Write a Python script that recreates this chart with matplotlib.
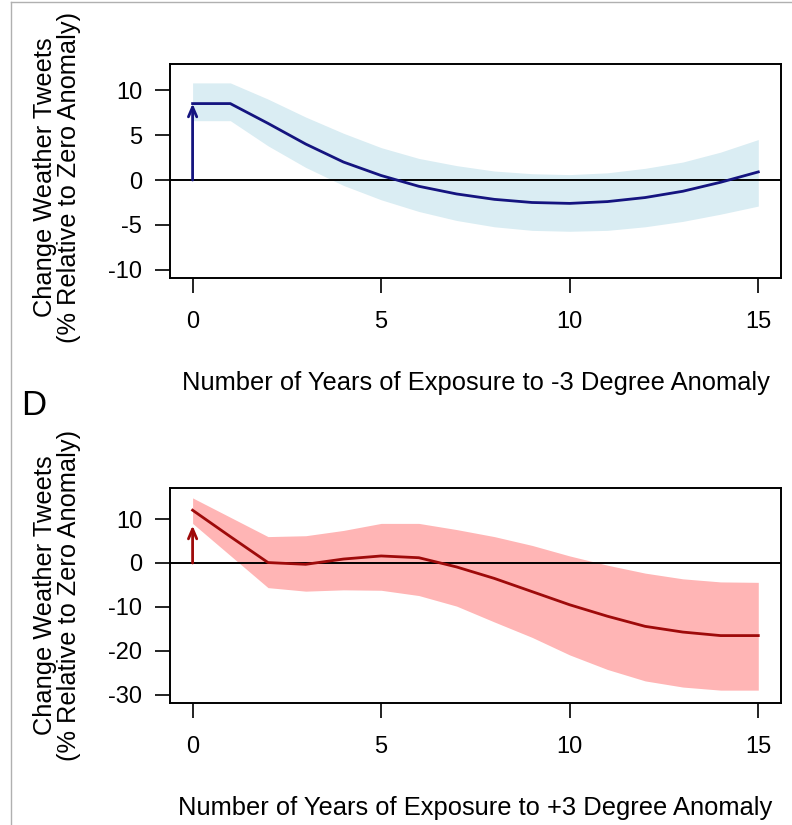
import numpy as np
import matplotlib
matplotlib.use("Agg")
import matplotlib.pyplot as plt
from matplotlib.lines import Line2D

plt.rcParams['font.family'] = ['Liberation Sans', 'DejaVu Sans']
plt.rcParams['axes.unicode_minus'] = False

# data
years = np.arange(16)

cold_est = [8.5, 8.5, 6.3, 4.0, 2.0, 0.5, -0.7, -1.55, -2.15, -2.5, -2.6, -2.4, -1.95, -1.25, -0.25, 0.9]
cold_hi = [10.8, 10.8, 9.0, 7.0, 5.2, 3.6, 2.4, 1.6, 1.0, 0.7, 0.6, 0.8, 1.3, 2.0, 3.1, 4.5]
cold_lo = [6.6, 6.6, 3.8, 1.4, -0.6, -2.2, -3.5, -4.5, -5.2, -5.6, -5.7, -5.6, -5.2, -4.6, -3.8, -2.9]
cold_arrow = 8.5

hot_est = [12.0, 6.0, 0.1, -0.3, 0.9, 1.6, 1.2, -0.9, -3.5, -6.5, -9.5, -12.1, -14.4, -15.7, -16.5, -16.5]
hot_hi = [14.8, 10.4, 6.0, 6.2, 7.4, 9.0, 9.0, 7.6, 6.0, 4.0, 1.6, -0.5, -2.3, -3.6, -4.3, -4.4]
hot_lo = [9.0, 1.7, -5.6, -6.4, -6.1, -6.2, -7.4, -9.8, -13.4, -16.9, -20.9, -24.2, -26.8, -28.2, -28.9, -28.9]
hot_arrow = 8.5

xticks = [0, 5, 10, 15]
cold_yticks = [-10, -5, 0, 5, 10]
hot_yticks = [-30, -20, -10, 0, 10]

ylabel = "Change Weather Tweets\n(% Relative to Zero Anomaly)"

fig = plt.figure(figsize=(7.92, 8.25), dpi=100)
ax1 = fig.add_axes([0.2146, 0.663, 0.7714, 0.2594])
ax2 = fig.add_axes([0.2146, 0.148, 0.7714, 0.2605])


def panel(ax, est, lo, hi, arrow_top, line_col, band_col, yticks, ylim, xlab, label_y):
    ax.fill_between(years, lo, hi, color=band_col, lw=0)
    ax.axhline(0, color='black', lw=1.4)
    ax.plot(years, est, color=line_col, lw=2.0)
    ax.annotate('', xy=(0, arrow_top), xytext=(0, 0),
                arrowprops=dict(arrowstyle='->,head_length=0.7,head_width=0.3',
                                color=line_col, lw=2.0, shrinkA=0, shrinkB=0))
    ax.set_xlim(-0.6, 15.6)
    ax.set_ylim(*ylim)
    ax.set_xticks(xticks)
    ax.set_yticks(yticks)
    ax.tick_params(direction='out', length=11, width=1.4, labelsize=17, color='#222222')
    ax.tick_params(axis='x', pad=13)
    ax.tick_params(axis='y', pad=9)
    for s in ax.spines.values():
        s.set_linewidth(1.4)
    ax.set_xlabel(xlab, fontsize=18.4, labelpad=27)
    ax.set_ylabel(ylabel, fontsize=18.3, linespacing=1.0)
    ax.yaxis.set_label_coords(-0.145, label_y)


panel(ax1, cold_est, cold_lo, cold_hi, cold_arrow, '#14147f', '#daedf3',
      cold_yticks, (-10.9, 12.9), "Number of Years of Exposure to -3 Degree Anomaly", 0.47)
panel(ax2, hot_est, hot_lo, hot_hi, hot_arrow, '#9e0a0a', '#ffb5b5',
      hot_yticks, (-31.8, 17.05), "Number of Years of Exposure to +3 Degree Anomaly", 0.5)

fig.text(0.027, 0.508, "D", fontsize=25, ha='left', va='center')

# thin grey frame on the left and top of the picture
fig.add_artist(Line2D([0.014, 0.014], [0, 0.997], color='#b0b0b0', lw=1))
fig.add_artist(Line2D([0.014, 1], [0.997, 0.997], color='#b0b0b0', lw=1))

fig.savefig("out.png", dpi=100)
